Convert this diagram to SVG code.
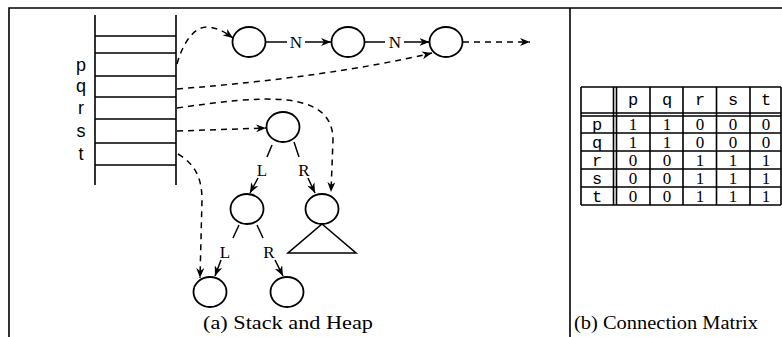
<svg xmlns="http://www.w3.org/2000/svg" width="782" height="337" viewBox="0 0 782 337">
<defs>
<marker id="ah" viewBox="0 0 10 8" refX="10" refY="4" markerWidth="10" markerHeight="8" orient="auto" markerUnits="userSpaceOnUse"><path d="M0,0 L10,4 L0,8 L3,4 Z" fill="#000"/></marker>
<style>
.frame{stroke:#000;stroke-width:1.6;fill:none}
.ln{stroke:#000;stroke-width:1.6;fill:none}
.node{stroke:#000;stroke-width:1.8;fill:#fff}
.dash{stroke:#000;stroke-width:1.5;fill:none;stroke-dasharray:6 5}
.solid{stroke:#000;stroke-width:1.5;fill:none}
.sans{font-family:"Liberation Sans",Arial,sans-serif;font-size:18px;text-anchor:middle}
.serif{font-family:"Liberation Serif","Times New Roman",serif;font-size:17px;text-anchor:middle}
.tnum{font-family:"Liberation Serif","Times New Roman",serif;font-size:17px;text-anchor:middle}
.mono{font-family:"Liberation Mono","Courier New",monospace;font-size:17px;text-anchor:middle}
.cap{font-family:"Liberation Serif","Times New Roman",serif;font-size:18px}
</style>
</defs>
<rect width="782" height="337" fill="#fff"/>
<g id="frame">
<path class="frame" d="M9,337 L9,8 L782,8 M570,8 L570,337"/>
</g>
<g id="stack">
<path class="ln" d="M95,15 L95,185 M176,15 L176,185 M95,36 H176 M95,53 H176 M95,76 H176 M95,97 H176 M95,119 H176 M95,143 H176 M95,165 H176"/>
<text class="sans" x="81" y="71">p</text>
<text class="sans" x="81" y="92">q</text>
<text class="sans" x="81" y="114">r</text>
<text class="sans" x="81" y="137">s</text>
<text class="sans" x="81" y="160">t</text>
</g>
<g id="n1"><ellipse class="node" cx="249" cy="42" rx="16.5" ry="15"/></g>
<g id="n2"><ellipse class="node" cx="348" cy="42" rx="16.5" ry="15"/></g>
<g id="n3"><ellipse class="node" cx="446" cy="42" rx="16.5" ry="15"/></g>
<g id="root"><ellipse class="node" cx="283" cy="127" rx="16.5" ry="15"/></g>
<g id="lchild"><ellipse class="node" cx="247" cy="209" rx="16.5" ry="15"/></g>
<g id="rchild"><ellipse class="node" cx="322" cy="209" rx="16.5" ry="15"/>
<path class="ln" d="M322,224 L356,253 L288,253 Z"/></g>
<g id="ll"><ellipse class="node" cx="210" cy="292" rx="16.5" ry="15"/></g>
<g id="lr"><ellipse class="node" cx="287" cy="292" rx="16.5" ry="15"/></g>
<g id="connectors">
<path class="dash" d="M177,64 C183,42 195,26 208,27 C219,28 226,33 233,38" marker-end="url(#ah)"/>
<path class="dash" d="M177,89 Q330,77 432,53" marker-end="url(#ah)"/>
<path class="dash" d="M177,108 C260,96 333,88 333,140 L331,192" marker-end="url(#ah)"/>
<path class="dash" d="M177,131 L266,128" marker-end="url(#ah)"/>
<path class="dash" d="M178,154 C195,164 202,178 202,200 L200,278" marker-end="url(#ah)"/>
<path class="dash" d="M463,42 L530,42" marker-end="url(#ah)"/>
<path class="solid" d="M265.5,42 L287,42"/>
<path class="solid" d="M305,42 L331,42" marker-end="url(#ah)"/>
<path class="solid" d="M364.5,42 L385,42"/>
<path class="solid" d="M404,42 L429.5,42" marker-end="url(#ah)"/>
<text class="serif" x="296" y="48">N</text>
<text class="serif" x="395" y="48">N</text>
<path class="solid" d="M272,145 L267,157"/>
<path class="solid" d="M258,178 L250,193" marker-end="url(#ah)"/>
<text class="serif" x="262" y="176">L</text>
<path class="solid" d="M294,142 L299,157"/>
<path class="solid" d="M308,178 L315,193" marker-end="url(#ah)"/>
<text class="serif" x="304" y="176">R</text>
<path class="solid" d="M239,225 L233,238"/>
<path class="solid" d="M221,260 L215,276" marker-end="url(#ah)"/>
<text class="serif" x="225" y="258">L</text>
<path class="solid" d="M257,225 L263,238"/>
<path class="solid" d="M275,260 L283,276" marker-end="url(#ah)"/>
<text class="serif" x="269" y="258">R</text>
</g>
<g id="matrix">
<path class="ln" stroke-width="1.3" d="M581,87 H781 M581,113 H781 M581,116 H781 M581,133 H781 M581,151 H781 M581,169 H781 M581,187 H781 M581,205 H781 M581,87 V205 M613.5,87 V205 M616.5,87 V205 M650,87 V205 M683,87 V205 M716.5,87 V205 M750,87 V205 M781,87 V205"/>
<g class="mono">
<text x="633" y="105">p</text><text x="667" y="105">q</text><text x="700" y="105">r</text><text x="733" y="105">s</text><text x="766" y="105">t</text>
<text x="597" y="130">p</text><text x="597" y="148">q</text><text x="597" y="166">r</text><text x="597" y="184">s</text><text x="597" y="202">t</text>
</g>
<g class="tnum">
<text x="633" y="130">1</text><text x="667" y="130">1</text><text x="700" y="130">0</text><text x="733" y="130">0</text><text x="766" y="130">0</text>
<text x="633" y="148">1</text><text x="667" y="148">1</text><text x="700" y="148">0</text><text x="733" y="148">0</text><text x="766" y="148">0</text>
<text x="633" y="166">0</text><text x="667" y="166">0</text><text x="700" y="166">1</text><text x="733" y="166">1</text><text x="766" y="166">1</text>
<text x="633" y="184">0</text><text x="667" y="184">0</text><text x="700" y="184">1</text><text x="733" y="184">1</text><text x="766" y="184">1</text>
<text x="633" y="202">0</text><text x="667" y="202">0</text><text x="700" y="202">1</text><text x="733" y="202">1</text><text x="766" y="202">1</text>
</g>
</g>
<g id="captions">
<text class="cap" x="203" y="329" textLength="170" lengthAdjust="spacingAndGlyphs">(a) Stack and Heap</text>
<text class="cap" x="574" y="329" textLength="184" lengthAdjust="spacingAndGlyphs">(b) Connection Matrix</text>
</g>
</svg>
